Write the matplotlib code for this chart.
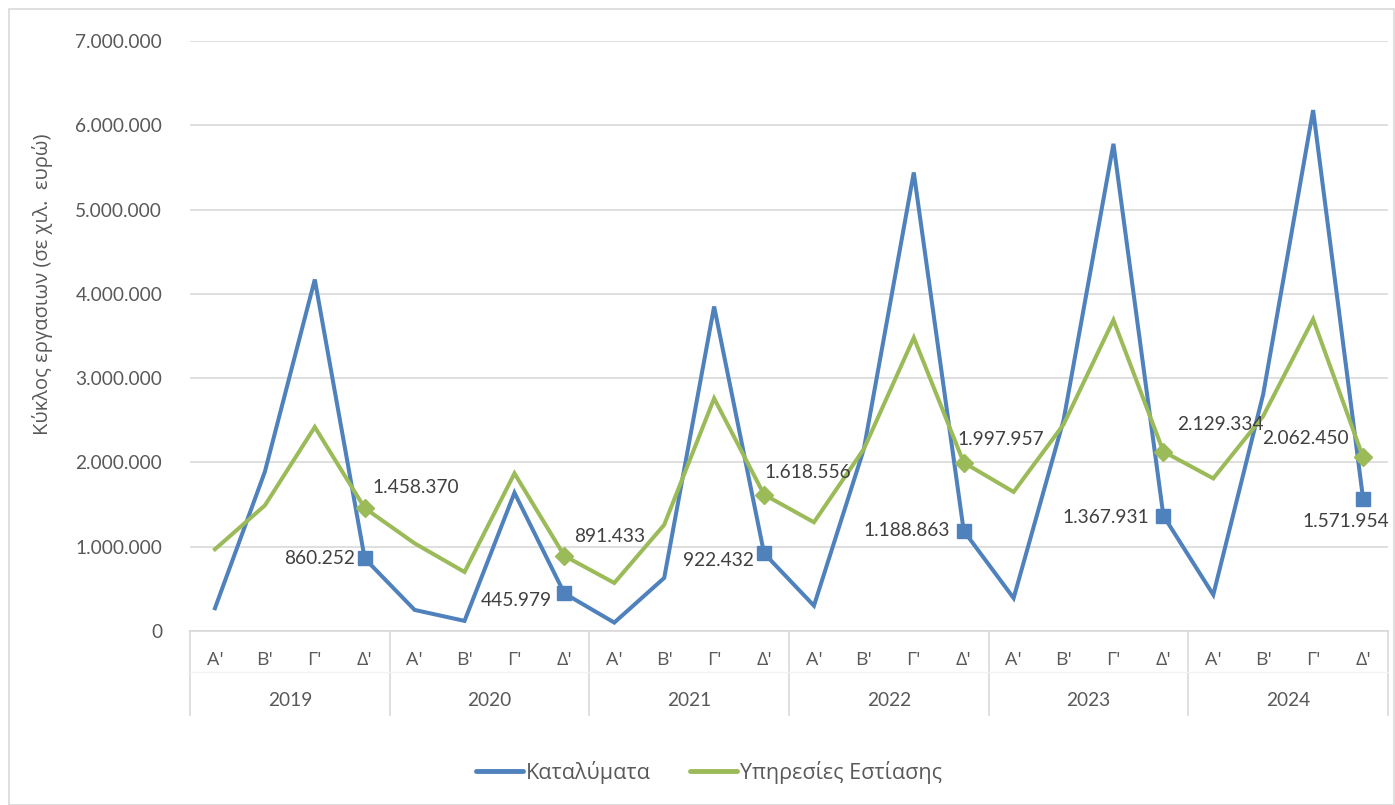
import matplotlib
matplotlib.use('Agg')
import matplotlib.pyplot as plt
from matplotlib.ticker import FuncFormatter, MultipleLocator
from matplotlib.patches import Rectangle
from matplotlib.lines import Line2D

plt.rcParams['font.family'] = ['Lato', 'Noto Sans', 'DejaVu Sans']
GREEK_FONT = ['Open Sans', 'Noto Sans', 'DejaVu Sans']

# data
years = ['2019', '2020', '2021', '2022', '2023', '2024']
quarters = ["Α'", "Β'", "Γ'", "Δ'"]

katalymata = [270000, 1890000, 4170000, 860252,
              250000, 120000, 1640000, 445979,
              100000, 630000, 3850000, 922432,
              300000, 2160000, 5440000, 1188863,
              390000, 2500000, 5780000, 1367931,
              430000, 2810000, 6180000, 1571954]

estiasi = [970000, 1490000, 2420000, 1458370,
           1040000, 700000, 1870000, 891433,
           570000, 1260000, 2760000, 1618556,
           1290000, 2160000, 3480000, 1997957,
           1650000, 2450000, 3690000, 2129334,
           1810000, 2550000, 3700000, 2062450]

# pixel offsets of the Q4 data labels (dx, dy, ha)
blue_lbl = [(-10, 0, 'right'), (-12, -7, 'right'), (-10, -7, 'right'),
            (-14, 0, 'right'), (-14, -2, 'right'), (-17, -23, 'center')]
green_lbl = [(8, 21, 'left'), (10, 19, 'left'), (0, 22, 'left'),
             (-6, 23, 'left'), (14, 27, 'left'), (-14, 19, 'right')]

BLUE = '#4F81BD'
GREEN = '#9BBB59'
GRID = '#D9D9D9'
TXT = '#595959'
FS = 13.8


def fmt_gr(v, pos=None):
    return f"{int(round(v)):,}".replace(',', '.')


fig = plt.figure(figsize=(13.95, 8.05), dpi=100)
ax = fig.add_axes([190 / 1395, 1 - 631 / 805, (1388 - 190) / 1395, 590 / 805])

x = list(range(len(katalymata)))
q4 = [i for i in x if i % 4 == 3]

ax.plot(x, katalymata, color=BLUE, lw=2.9, solid_joinstyle='miter', zorder=3)
ax.plot(x, estiasi, color=GREEN, lw=2.9, solid_joinstyle='miter', zorder=3)
ax.plot(q4, [katalymata[i] for i in q4], ls='none', marker='s', ms=10, color=BLUE, zorder=4)
ax.plot(q4, [estiasi[i] for i in q4], ls='none', marker='D', ms=9, color=GREEN, zorder=4)

for k, i in enumerate(q4):
    dx, dy, ha = blue_lbl[k]
    ax.annotate(fmt_gr(katalymata[i]), (i, katalymata[i]), xytext=(dx, dy),
                textcoords='offset pixels', ha=ha, va='center', fontsize=FS, color='#404040')
    dx, dy, ha = green_lbl[k]
    ax.annotate(fmt_gr(estiasi[i]), (i, estiasi[i]), xytext=(dx, dy),
                textcoords='offset pixels', ha=ha, va='center', fontsize=FS, color='#404040')

ax.set_xlim(-0.5, len(x) - 0.5)
ax.set_ylim(0, 7000000)
ax.yaxis.set_major_locator(MultipleLocator(1000000))
ax.yaxis.set_major_formatter(FuncFormatter(fmt_gr))
ax.grid(axis='y', color=GRID, lw=1.2)
ax.set_axisbelow(True)
for s in ['left', 'right', 'top']:
    ax.spines[s].set_visible(False)
ax.spines['bottom'].set_color(GRID)
ax.spines['bottom'].set_linewidth(1.2)
ax.tick_params(axis='y', length=0, pad=20, labelsize=FS, labelcolor=TXT)
ax.set_xticks([])

# two-level category axis
tr = ax.get_xaxis_transform()
for i in x:
    ax.text(i, -0.049, quarters[i % 4], transform=tr, ha='center', va='center',
            fontsize=14, color=TXT, family=GREEK_FONT)
for j, yr in enumerate(years):
    ax.text(j * 4 + 1.5, -0.117, yr, transform=tr, ha='center', va='center',
            fontsize=FS, color=TXT)
for b in range(len(years) + 1):
    ax.plot([b * 4 - 0.5] * 2, [0, -0.142], transform=tr, color=GRID, lw=1.2, clip_on=False)
ax.plot([-0.5, len(x) - 0.5], [-0.07, -0.07], transform=tr, color='#F2F2F2', lw=1, clip_on=False)

fig.text(43 / 1395, 1 - 284 / 805, 'Κύκλος εργασιων (σε χιλ.  ευρώ)', rotation=90,
         ha='center', va='center', fontsize=14.5, color=TXT, family=GREEK_FONT)

handles = [Line2D([], [], color=BLUE, lw=3.5, solid_capstyle='round'),
           Line2D([], [], color=GREEN, lw=3.5, solid_capstyle='round')]
fig.legend(handles, ['Καταλύματα', 'Υπηρεσίες Εστίασης'], loc='center',
           bbox_to_anchor=(709 / 1395, 1 - 772 / 805), ncol=2, frameon=False,
           prop={'family': GREEK_FONT, 'size': 15.5}, handlelength=2.2,
           handletextpad=0.15, columnspacing=1.8, labelcolor=TXT)

fig.patches.append(Rectangle((9 / 1395, 0), 1385 / 1395, 1 - 9 / 805, transform=fig.transFigure,
                             fill=False, edgecolor=GRID, lw=1.2))

fig.savefig('out.png', dpi=100)
